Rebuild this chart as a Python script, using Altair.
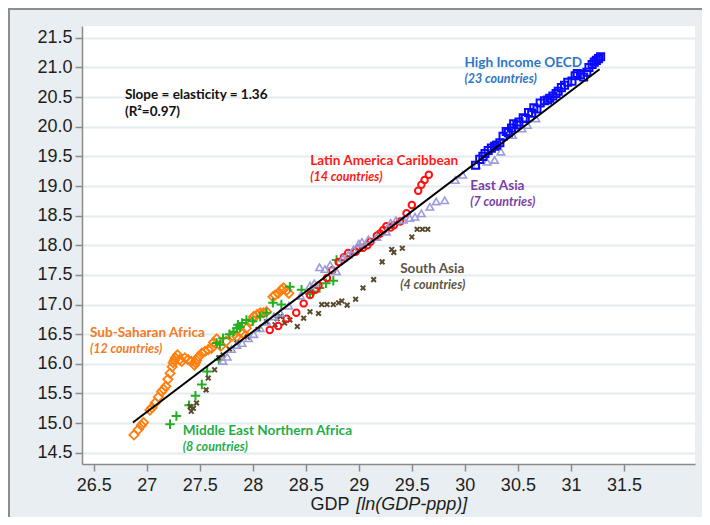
import altair as alt
import pandas as pd

# ---------------- data ----------------
ssa_x = [26.88, 26.92, 26.95, 26.97, 27.03, 27.05, 27.08, 27.11, 27.14, 27.16, 27.18, 27.20, 27.22,
         27.24, 27.25, 27.26, 27.27, 27.29, 27.31, 27.33, 27.36, 27.39, 27.42, 27.45, 27.46, 27.47,
         27.49, 27.52, 27.55, 27.58, 27.61, 27.63, 27.66, 27.70, 27.75, 27.81, 27.85, 27.88, 27.91,
         27.94, 27.98, 28.01, 28.04, 28.07, 28.10, 28.13, 28.19, 28.21, 28.24, 28.27, 28.29, 28.32, 28.34]
ssa_y = [14.80, 14.89, 14.96, 15.01, 15.22, 15.26, 15.34, 15.44, 15.53, 15.57, 15.62, 15.74, 15.84,
         15.95, 16.02, 16.06, 16.10, 16.15, 16.07, 16.04, 16.10, 16.07, 16.04, 15.98, 16.02, 16.06,
         16.12, 16.18, 16.21, 16.24, 16.26, 16.36, 16.42, 16.30, 16.38, 16.47, 16.46, 16.54, 16.52,
         16.60, 16.72, 16.80, 16.83, 16.86, 16.86, 16.88, 17.13, 17.16, 17.19, 17.25, 17.28, 17.24, 17.19]

mena_x = [27.22, 27.28, 27.40, 27.46, 27.52, 27.57, 27.66, 27.68, 27.69, 27.72, 27.78, 27.82, 27.85,
          27.86, 27.88, 27.90, 27.94, 28.00, 28.07, 28.13, 28.19, 28.27, 28.35, 28.46, 28.54, 28.57,
          28.63, 28.69, 28.76, 28.79]
mena_y = [14.98, 15.12, 15.30, 15.46, 15.65, 15.87, 16.35, 16.07, 16.32, 16.43, 16.50, 16.54, 16.60,
          16.66, 16.62, 16.69, 16.74, 16.72, 16.80, 16.86, 17.03, 17.00, 17.30, 17.25, 17.18, 17.22,
          17.28, 17.36, 17.40, 17.75]

sa_x = [27.41, 27.42, 27.44, 27.47, 27.56, 27.58, 27.64, 27.68, 27.72, 27.78, 27.85, 27.95, 28.05,
        28.13, 28.21, 28.23, 28.26, 28.30, 28.35, 28.42, 28.48, 28.54, 28.62, 28.65, 28.70, 28.76,
        28.81, 28.84, 28.89, 28.97, 29.04, 29.14, 29.22, 29.31, 29.33, 29.41, 29.50, 29.55, 29.60, 29.65]
sa_y = [15.28, 15.20, 15.25, 15.34, 15.56, 15.76, 15.90, 16.10, 16.15, 16.25, 16.35, 16.45, 16.58,
        16.71, 16.66, 16.76, 16.80, 16.69, 16.74, 16.63, 16.77, 16.88, 16.85, 17.00, 17.00, 17.00,
        17.03, 17.06, 16.99, 17.09, 17.28, 17.42, 17.72, 17.93, 17.88, 17.95, 18.14, 18.27, 18.27, 18.27]

lac_x = [28.16, 28.24, 28.32, 28.41, 28.48, 28.54, 28.59, 28.62, 28.70, 28.75, 28.81, 28.86, 28.90,
         28.97, 29.00, 29.04, 29.08, 29.11, 29.17, 29.20, 29.23, 29.26, 29.30, 29.33, 29.39, 29.45,
         29.50, 29.56, 29.59, 29.62, 29.66]
lac_y = [16.57, 16.64, 16.76, 16.86, 17.02, 17.16, 17.25, 17.32, 17.45, 17.58, 17.72, 17.80, 17.87,
         17.89, 17.95, 17.96, 18.00, 18.06, 18.16, 18.20, 18.26, 18.32, 18.30, 18.34, 18.40, 18.54,
         18.68, 18.92, 19.02, 19.10, 19.19]

ea_x = [27.72, 27.76, 27.80, 27.85, 27.90, 27.96, 28.01, 28.07, 28.13, 28.20, 28.26, 28.34, 28.45,
        28.54, 28.58, 28.63, 28.68, 28.73, 28.79, 28.85, 28.90, 28.95, 29.00, 29.03, 29.09, 29.17,
        29.26, 29.30, 29.35, 29.42, 29.48, 29.53, 29.59, 29.67, 29.73, 29.81, 29.91, 29.98, 30.11,
        30.21, 30.28, 30.34, 30.45, 30.54, 30.59, 30.67]
ea_y = [16.05, 16.12, 16.25, 16.32, 16.35, 16.43, 16.50, 16.60, 16.71, 16.80, 16.86, 16.98, 17.15,
        17.32, 17.36, 17.63, 17.60, 17.67, 17.56, 17.78, 17.84, 17.93, 18.03, 18.06, 18.10, 18.14,
        18.23, 18.38, 18.42, 18.43, 18.46, 18.48, 18.54, 18.65, 18.74, 18.76, 19.10, 19.19, 19.35,
        19.41, 19.44, 19.58, 19.86, 19.97, 20.03, 20.14]

hi_x = [30.10, 30.14, 30.17, 30.19, 30.22, 30.25, 30.28, 30.30, 30.33, 30.36, 30.39, 30.41, 30.44,
        30.46, 30.49, 30.51, 30.55, 30.57, 30.60, 30.63, 30.65, 30.68, 30.71, 30.75, 30.78, 30.80,
        30.83, 30.86, 30.88, 30.91, 30.94, 30.97, 31.01, 31.04, 31.06, 31.09, 31.12, 31.15, 31.17,
        31.20, 31.22, 31.24, 31.26, 31.28]
hi_y = [19.35, 19.45, 19.50, 19.55, 19.60, 19.64, 19.67, 19.69, 19.73, 19.84, 19.92, 19.90, 19.98,
        20.05, 20.03, 20.08, 20.15, 20.14, 20.24, 20.23, 20.32, 20.30, 20.40, 20.44, 20.45, 20.48,
        20.52, 20.56, 20.60, 20.66, 20.70, 20.75, 20.77, 20.86, 20.90, 20.88, 20.84, 20.92, 21.00,
        21.05, 21.09, 21.12, 21.15, 21.18]

fit_x = [26.87, 31.27]
fit_y = [15.01, 20.97]

x_ticks = [26.5, 27, 27.5, 28, 28.5, 29, 29.5, 30, 30.5, 31, 31.5]
y_ticks = [14.5, 15.0, 15.5, 16.0, 16.5, 17.0, 17.5, 18.0, 18.5, 19.0, 19.5, 20.0, 20.5, 21.0, 21.5]

region_names = ["High Income OECD", "Latin America Caribbean", "East Asia", "South Asia",
                "Sub-Saharan Africa", "Middle East Northern Africa"]
region_counts = ["(23 countries)", "(14 countries)", "(7 countries)", "(4 countries)",
                 "(12 countries)", "(8 countries)"]
label_x = [29.996, 28.541, 30.05, 29.39, 26.465, 27.34]
label_y = [21.011, 19.354, 18.933, 17.529, 16.45, 14.80]
label_colors = ["#2e75c6", "#ff1a1a", "#7a3fa8", "#5e5546", "#f07c28", "#1fae4a"]

note_lines = ["Slope = elasticity = 1.36", "(R\u00b2=0.97)"]
note_x = [26.795, 26.795]
note_y = [20.467, 20.18]

title_parts = ["GDP", "[ln(GDP-ppp)]"]
title_x = [28.545, 28.975]
title_styles = ["normal", "italic"]

# ---------------- chart ----------------
W, H = 613, 438
AXIS_FONT = "Liberation Sans"

xscale = alt.Scale(domain=[26.39, 32.17], nice=False, zero=False)
yscale = alt.Scale(domain=[14.31, 21.70], nice=False, zero=False)

xaxis = alt.Axis(values=x_ticks, format="~g", title=None, grid=False,
                 labelFont=AXIS_FONT, labelFontSize=18, labelColor="#1e1e1e",
                 domainColor="#8a8a8a", domainWidth=1.5, tickColor="#8a8a8a",
                 tickWidth=1.5, tickSize=7, labelPadding=5, labelFlush=False)
yaxis = alt.Axis(values=y_ticks, format=".1f", title=None, grid=True,
                 gridColor="#e4ebee", gridWidth=2,
                 labelFont=AXIS_FONT, labelFontSize=18, labelColor="#1e1e1e",
                 domainColor="#8a8a8a", domainWidth=1.5, tickColor="#8a8a8a",
                 tickWidth=1.5, tickSize=7, labelPadding=3, labelFlush=False)

X = alt.X("x:Q", scale=xscale, axis=xaxis)
Y = alt.Y("y:Q", scale=yscale, axis=yaxis)


def points(xs, ys, shape, color, size, sw):
    df = pd.DataFrame({"x": xs, "y": ys})
    return alt.Chart(df).mark_point(shape=shape, size=size, filled=False, stroke=color,
                                    strokeWidth=sw, opacity=1).encode(x=X, y=Y)


ssa = points(ssa_x, ssa_y, "diamond", "#ff7f0e", 85, 1.8)
mena = points(mena_x, mena_y, "M-1,0L1,0M0,-1L0,1", "#22b022", 90, 2)
sa = points(sa_x, sa_y, "M-1,-1L1,1M-1,1L1,-1", "#5a4a2c", 22, 2)
lac = points(lac_x, lac_y, "circle", "#ff1010", 42, 2)
ea = points(ea_x, ea_y, "triangle-up", "#9c9cdc", 55, 1.6)
hi = points(hi_x, hi_y, "square", "#0a0aff", 50, 2)

fit = alt.Chart(pd.DataFrame({"x": fit_x, "y": fit_y})).mark_line(
    color="black", strokeWidth=2).encode(x=X, y=Y)

labels_df = pd.DataFrame({"x": label_x, "y": label_y, "name": region_names,
                          "sub": region_counts, "c": label_colors})
lab1 = alt.Chart(labels_df).mark_text(align="left", baseline="alphabetic", font="Lato",
                                      fontWeight="bold", fontSize=13.6).encode(
    x=X, y=Y, text="name:N", color=alt.Color("c:N", scale=None))
lab2 = alt.Chart(labels_df).mark_text(align="left", baseline="alphabetic", font="Lato",
                                      fontWeight="bold", fontStyle="italic", fontSize=12.5,
                                      dy=16).encode(
    x=X, y=Y, text="sub:N", color=alt.Color("c:N", scale=None))

note = alt.Chart(pd.DataFrame({"x": note_x, "y": note_y, "t": note_lines})).mark_text(
    align="left", baseline="alphabetic", font="Lato", fontWeight="bold", fontSize=13.5,
    color="#111111").encode(x=X, y=Y, text="t:N")

tdf = pd.DataFrame({"x": title_x, "t": title_parts, "s": title_styles})
title_a = alt.Chart(tdf).transform_filter(alt.datum.s == "normal").mark_text(
    align="left", baseline="alphabetic", font=AXIS_FONT, fontSize=18, color="#1e1e1e").encode(
    x=X, y=alt.value(H + 46), text="t:N")
title_b = alt.Chart(tdf).transform_filter(alt.datum.s == "italic").mark_text(
    align="left", baseline="alphabetic", font=AXIS_FONT, fontSize=18, fontStyle="italic",
    color="#1e1e1e").encode(x=X, y=alt.value(H + 46), text="t:N")

frame_top = alt.Chart(pd.DataFrame({"k": [0]})).mark_rule(color="#8c8c8c", strokeWidth=2).encode(
    x=alt.value(-74), x2=alt.value(W + 8), y=alt.value(-17))
frame_left = alt.Chart(pd.DataFrame({"k": [0]})).mark_rule(color="#8c8c8c", strokeWidth=2).encode(
    x=alt.value(-73), y=alt.value(-17), y2=alt.value(H + 53))

chart = alt.layer(
    ssa, mena, sa, lac, ea, hi, fit, lab1, lab2, note, title_a, title_b, frame_top, frame_left
).properties(
    width=W, height=H,
    autosize=alt.AutoSizeParams(type="none"),
    padding={"left": 74, "top": 18, "right": 7, "bottom": 53},
    background="#e8eef1",
).configure_view(fill="white", stroke=None)

chart.save("out.html", embed_options={"renderer": "svg", "actions": False})
